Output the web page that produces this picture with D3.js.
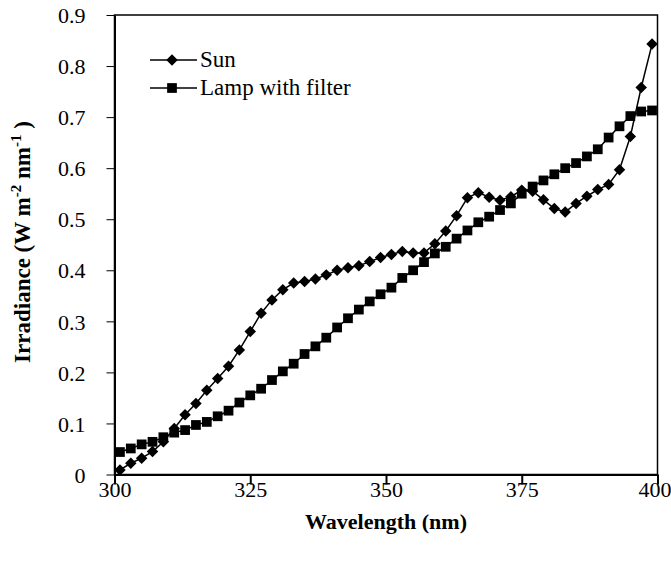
<!DOCTYPE html>
<html>
<head>
<meta charset="utf-8">
<script src="https://cdn.jsdelivr.net/npm/d3@7"></script>
<style>
  body { margin: 0; background: #fff; }
</style>
</head>
<body>
<svg id="chart" width="671" height="563"></svg>
<script>
// wavelengths (nm), one reading every 2 nm
var wavelengths = d3.range(301, 400, 2);

// irradiance, W m-2 nm-1
var sunValues = [
  0.009, 0.022, 0.032, 0.045, 0.064, 0.090, 0.117, 0.139, 0.165, 0.188,
  0.212, 0.244, 0.280, 0.316, 0.342, 0.362, 0.375, 0.378, 0.383, 0.391,
  0.400, 0.405, 0.409, 0.417, 0.425, 0.431, 0.437, 0.434, 0.434, 0.452,
  0.477, 0.507, 0.542, 0.552, 0.543, 0.537, 0.544, 0.557, 0.555, 0.538,
  0.521, 0.514, 0.531, 0.545, 0.558, 0.568, 0.597, 0.662, 0.758, 0.843
];

var lampValues = [
  0.044, 0.051, 0.059, 0.064, 0.073, 0.082, 0.087, 0.097, 0.103, 0.114,
  0.125, 0.141, 0.155, 0.168, 0.185, 0.202, 0.217, 0.236, 0.251, 0.268,
  0.288, 0.306, 0.323, 0.339, 0.353, 0.366, 0.385, 0.400, 0.416, 0.433,
  0.446, 0.462, 0.478, 0.494, 0.505, 0.518, 0.531, 0.550, 0.564, 0.576,
  0.588, 0.600, 0.610, 0.623, 0.637, 0.660, 0.682, 0.702, 0.711, 0.713
];

var xTicks = [300, 325, 350, 375, 400];
var yTicks = [0, 0.1, 0.2, 0.3, 0.4, 0.5, 0.6, 0.7, 0.8, 0.9];

var seriesNames = ['Sun', 'Lamp with filter'];

var FONT = '"Liberation Serif", "Times New Roman", Times, serif';

var svg = d3.select('#chart')
    .attr('font-family', FONT);

var x = d3.scaleLinear().domain([300, 400]).range([114.5, 657.5]);
var y = d3.scaleLinear().domain([0, 0.9]).range([474.5, 15]);

// frame
svg.append('rect')
    .attr('x', x(300)).attr('y', y(0.9))
    .attr('width', x(400) - x(300)).attr('height', y(0) - y(0.9))
    .attr('fill', 'none').attr('stroke', '#000').attr('stroke-width', 1.5);

// axes
var xAxis = d3.axisBottom(x).tickValues(xTicks).tickSize(10).tickSizeOuter(0).tickFormat(d3.format('d'));
var gx = svg.append('g').attr('transform', 'translate(0,' + y(0) + ')').call(xAxis)
    .attr('font-family', FONT).attr('font-size', 22);
gx.select('.domain').attr('stroke-width', 2);
gx.selectAll('.tick line').attr('stroke-width', 2);
gx.selectAll('.tick text')
    .style('font-family', FONT).attr('font-size', 22)
    .attr('y', 10).attr('dy', '0.55em')
    .attr('dx', function (d) { return d === 400 ? -3 : 0; });

var yAxis = d3.axisLeft(y).tickValues(yTicks).tickSize(8).tickSizeOuter(0)
    .tickFormat(function (d) { return d === 0 ? '0' : d3.format('.1f')(d); });
var gy = svg.append('g').attr('transform', 'translate(' + x(300) + ',0)').call(yAxis)
    .attr('font-family', FONT).attr('font-size', 22);
gy.select('.domain').attr('stroke-width', 2);
gy.selectAll('.tick line').attr('stroke-width', 1);
gy.selectAll('.tick text')
    .style('font-family', FONT).attr('font-size', 22)
    .attr('x', -29).attr('dy', '0.35em');

// axis titles
svg.append('text')
    .attr('x', x(350)).attr('y', 529)
    .attr('text-anchor', 'middle')
    .style('font-family', FONT)
    .attr('font-size', 22).attr('font-weight', 'bold')
    .text('Wavelength (nm)');

var yt = svg.append('text')
    .attr('transform', 'translate(30,' + 242 + ') rotate(-90)')
    .attr('text-anchor', 'middle')
    .style('font-family', FONT)
    .attr('font-size', 23).attr('font-weight', 'bold');
yt.append('tspan').text('Irradiance (W m');
yt.append('tspan').attr('font-size', 15).attr('dy', -9).text('-2');
yt.append('tspan').attr('dy', 9).text(' nm');
yt.append('tspan').attr('font-size', 15).attr('dy', -9).text('-1');
yt.append('tspan').attr('dy', 9).text(' )');

// series
var line = d3.line()
    .x(function (d) { return x(d[0]); })
    .y(function (d) { return y(d[1]); });

var sunData = d3.zip(wavelengths, sunValues);
var lampData = d3.zip(wavelengths, lampValues);

var diamond = d3.symbol().type(d3.symbolDiamond2).size(84);
var square = d3.symbol().type(d3.symbolSquare2).size(121);

function drawSeries (data, symbol) {
    var g = svg.append('g');
    g.append('path')
        .attr('d', line(data))
        .attr('fill', 'none')
        .attr('stroke', '#000')
        .attr('stroke-width', 1.5);
    g.selectAll('path.mark')
        .data(data)
        .enter().append('path')
        .attr('class', 'mark')
        .attr('transform', function (d) { return 'translate(' + x(d[0]) + ',' + y(d[1]) + ')'; })
        .attr('d', symbol)
        .attr('fill', '#000');
}

drawSeries(lampData, square);
drawSeries(sunData, diamond);

// legend
var legend = svg.append('g');
[diamond, square].forEach(function (sym, i) {
    var ly = 60 + i * 28;
    legend.append('line')
        .attr('x1', 150).attr('x2', 197).attr('y1', ly).attr('y2', ly)
        .attr('stroke', '#000').attr('stroke-width', 1.5);
    legend.append('path')
        .attr('transform', 'translate(172,' + ly + ')')
        .attr('d', sym)
        .attr('fill', '#000');
    legend.append('text')
        .attr('x', 200).attr('y', ly)
        .attr('dy', '0.3em')
        .style('font-family', FONT)
        .attr('font-size', 23)
        .text(seriesNames[i]);
});
</script>
</body>
</html>
